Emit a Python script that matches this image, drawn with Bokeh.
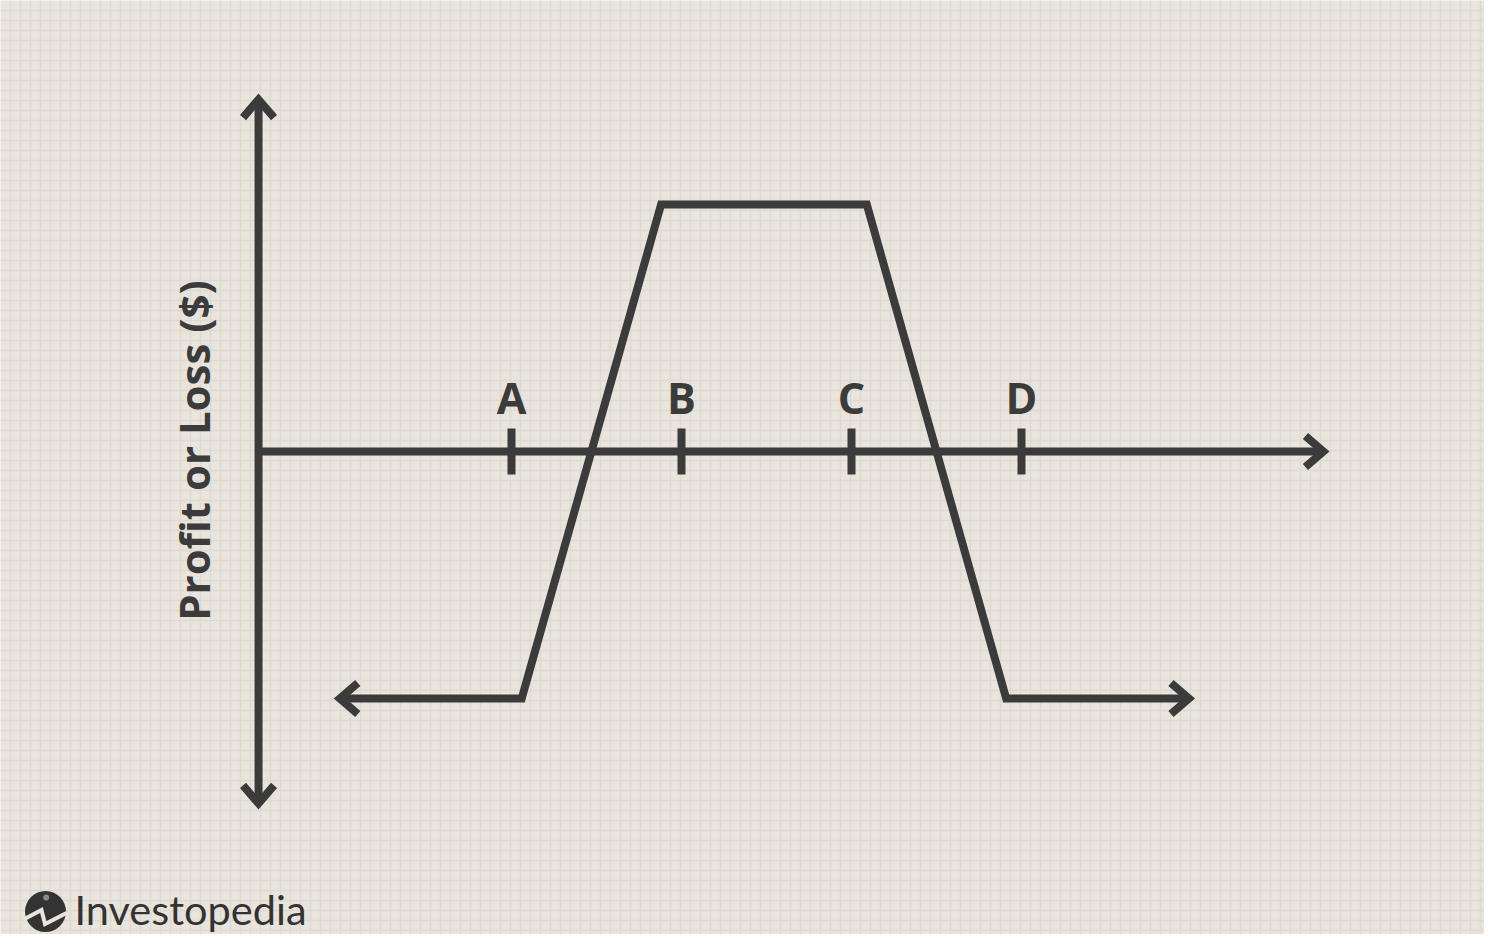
import numpy as np
from bokeh.plotting import figure
from bokeh.models import Range1d, Label, FixedTicker
from bokeh.embed import file_html
from bokeh.resources import INLINE
from bokeh.core.properties import value

# ---------------- data ----------------
strike_labels = ["A", "B", "C", "D"]
strikes = [40, 50, 60, 70]
payoff_x = [29.9, 40.6, 48.8, 60.9, 69.1, 79.85]
payoff_y = [-10, -10, 10, 10, -10, -10]
origin_x = 25.12
x_axis_end = 87.76
y_axis_top = 14.25
y_axis_bottom = -14.25
y_label = "Profit or Loss ($)"
brand = "Investopedia"

# ---------------- layout ----------------
W, H = 1484, 934
PX_X = 17.0   # pixels per x unit
PX_Y = 24.7   # pixels per y unit
x_start = 40 - 511 / PX_X
x_end = x_start + W / PX_X
y_end = 451 / PX_Y
y_start = y_end - H / PX_Y

BG = "#e9e5dd"
GRID = "#dfdad1"
INK = "#3b3b3b"
BASE_FIX = 0.41  # svg alphabetic-baseline correction (fraction of font size)


def ox(px):
    return px / PX_X


def oy(px):
    return px / PX_Y


def page_x(px):
    return x_start + px / PX_X


def page_y(py):
    return y_end - py / PX_Y


p = figure(width=W, height=H, output_backend="svg", toolbar_location=None,
           x_range=Range1d(x_start, x_end), y_range=Range1d(y_start, y_end),
           min_border=0)
p.background_fill_color = BG
p.border_fill_color = BG
p.outline_line_color = None
p.axis.visible = False

# faint graph-paper grid every 10px
p.xgrid.ticker = FixedTicker(ticks=[page_x(v) for v in range(10, 1500, 10)])
p.ygrid.ticker = FixedTicker(ticks=[page_y(v) for v in range(10, 950, 10)])
p.xgrid.grid_line_color = GRID
p.ygrid.grid_line_color = GRID
p.xgrid.grid_line_width = 1.5
p.ygrid.grid_line_width = 1.5

LW = 8

# axes
p.line([origin_x, origin_x], [y_axis_bottom, y_axis_top], line_color=INK, line_width=LW)
p.line([origin_x, x_axis_end], [0, 0], line_color=INK, line_width=LW)

# strike ticks
p.segment(x0=strikes, y0=[-oy(23)] * 4, x1=strikes, y1=[oy(23)] * 4,
          line_color=INK, line_width=LW)

# payoff line
p.line(payoff_x, payoff_y, line_color=INK, line_width=LW, line_join="miter")

# chevron arrowheads
BACK, LAT = 18, 15.5


def chevron(tx, ty, direction):
    if direction == "right":
        return [tx - ox(BACK), tx, tx - ox(BACK)], [ty + oy(LAT), ty, ty - oy(LAT)]
    if direction == "left":
        return [tx + ox(BACK), tx, tx + ox(BACK)], [ty + oy(LAT), ty, ty - oy(LAT)]
    if direction == "up":
        return [tx - ox(LAT), tx, tx + ox(LAT)], [ty - oy(BACK), ty, ty - oy(BACK)]
    return [tx - ox(LAT), tx, tx + ox(LAT)], [ty + oy(BACK), ty, ty + oy(BACK)]


heads = [
    chevron(origin_x, y_axis_top, "up"),
    chevron(origin_x, y_axis_bottom, "down"),
    chevron(x_axis_end, 0, "right"),
    chevron(payoff_x[0], payoff_y[0], "left"),
    chevron(payoff_x[-1], payoff_y[-1], "right"),
]
p.multi_line(xs=[h[0] for h in heads], ys=[h[1] for h in heads],
             line_color=INK, line_width=LW, line_join="miter")

# strike labels
FS = 43
p.text(x=strikes, y=[oy(36 + BASE_FIX * FS)] * 4, text=strike_labels,
       text_font=value("Open Sans"), text_font_style="bold",
       text_font_size=f"{FS}px", text_color=INK,
       text_align="center", text_baseline="alphabetic")

# y-axis title
p.add_layout(Label(x=page_x(210 - BASE_FIX * 42), y=page_y(450), text=y_label,
                   angle=np.pi / 2,
                   text_font="Open Sans", text_font_style="bold",
                   text_font_size="42px", text_color=INK,
                   text_align="center", text_baseline="alphabetic"))

# brand mark
p.scatter([page_x(45)], [page_y(911)], size=41, marker="circle",
          fill_color="#333333", line_color=None)
p.line([page_x(23), page_x(41), page_x(44.5), page_x(66)],
       [page_y(919), page_y(909.5), page_y(923.5), page_y(912.5)],
       line_color=BG, line_width=4, line_join="miter")
p.scatter([page_x(45.7)], [page_y(897)], size=6, marker="circle",
          fill_color="#8a8a8a", line_color=None)
BF = 41.5
p.add_layout(Label(x=page_x(74), y=page_y(925.5 - BASE_FIX * BF), text=brand,
                   text_font="Lato", text_font_size=f"{BF}px", text_color="#333333",
                   text_align="left", text_baseline="alphabetic"))

open("out.html", "w").write(file_html(p, INLINE))
